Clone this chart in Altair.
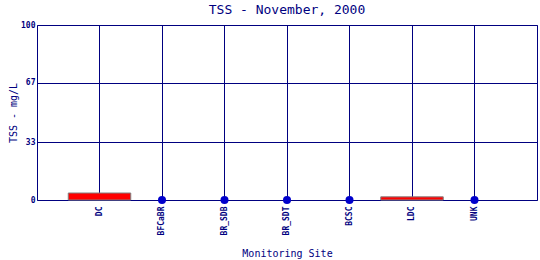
import altair as alt
import pandas as pd

sites = ["DC", "BFCaBR", "BR_SDB", "BR_SDT", "BCSC", "LDC", "UNK"]
tss = [4.0, 0.0, 0.0, 0.0, 0.0, 1.8, 0.0]
y_ticks = [0, 33, 67, 100]

df = pd.DataFrame({"site": sites, "tss": tss})

NAVY = "#000080"
FONT = "DejaVu Sans Mono"

x_enc = alt.X(
    "site:N",
    sort=sites,
    scale=alt.Scale(paddingInner=0, paddingOuter=0.5),
    axis=alt.Axis(
        title="Monitoring Site",
        labelAngle=270,
        labelAlign="right",
        labelBaseline="middle",
        labelFont=FONT,
        labelFontSize=8,
        labelFontWeight="bold",
        labelColor=NAVY,
        labelPadding=6,
        ticks=False,
        domain=False,
        grid=True,
        gridColor=NAVY,
        gridOpacity=1,
        gridWidth=1,
        bandPosition=0.5,
        titleFont=FONT,
        titleFontSize=10,
        titleFontWeight="normal",
        titleColor=NAVY,
        titleY=48,
        titleBaseline="top",
    ),
)

y_enc = alt.Y(
    "tss:Q",
    scale=alt.Scale(domain=[0, 100], nice=False),
    axis=alt.Axis(
        title="TSS - mg/L",
        values=y_ticks,
        labelFont=FONT,
        labelFontSize=8,
        labelFontWeight="bold",
        labelColor=NAVY,
        labelPadding=2,
        ticks=False,
        domain=False,
        grid=True,
        gridColor=NAVY,
        gridOpacity=1,
        gridWidth=1,
        titleFont=FONT,
        titleFontSize=10,
        titleFontWeight="normal",
        titleColor=NAVY,
        titleX=-24,
        titleY=87.5,
        titleAngle=270,
        titleAlign="center",
        titleBaseline="middle",
    ),
)

base = alt.Chart(df).encode(x=x_enc, y=y_enc)

bars = base.mark_bar(
    color="#FF0000", stroke="#808080", strokeWidth=1, width={"band": 1}
).transform_filter("datum.tss > 0")

dots = base.mark_circle(size=64, color="#0000CC", opacity=1).transform_filter(
    "datum.tss == 0"
)

chart = (
    alt.layer(bars, dots)
    .properties(
        width=500,
        height=175,
        autosize=alt.AutoSizeParams(type="none"),
        padding={"left": 37, "top": 25, "right": 3, "bottom": 60},
        background="white",
        title=alt.TitleParams(
            "TSS - November, 2000",
            font=FONT,
            fontSize=13,
            fontWeight="normal",
            color=NAVY,
            anchor="middle",
            offset=4,
        ),
    )
    .configure_view(stroke=NAVY, strokeWidth=1)
)

chart.save("out.html", embed_options={"renderer": "svg", "actions": False})
